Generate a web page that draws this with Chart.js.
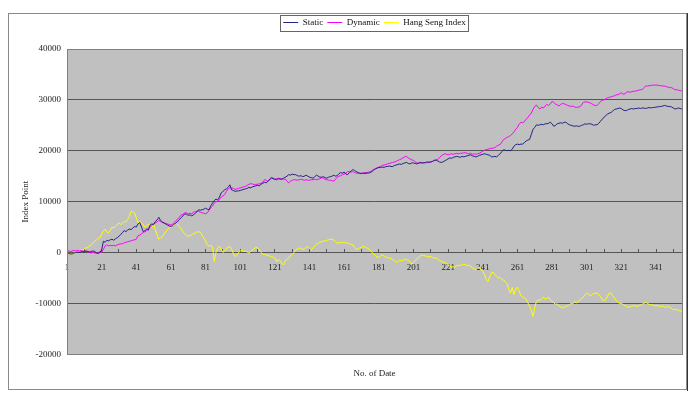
<!DOCTYPE html>
<html>
<head>
<meta charset="utf-8">
<title>Static / Dynamic vs Hang Seng Index</title>
<script src="https://cdn.jsdelivr.net/npm/chart.js@4/dist/chart.umd.min.js"></script>
<style>
  html, body { margin: 0; padding: 0; background: #fff; }
</style>
</head>
<body>
<canvas id="indexChart" width="700" height="397"></canvas>
<script>
// No. of Date (categories)
var days = Array.from({ length: 356 }, function (_, i) { return i + 1; });

// index points, one value per date
var staticValues = [
  0, -200, -300, -300, -100, 0, 100, 0, 100, 200,
  100, 300, 200, 100, 200, 300, 200, -100, -200, 0,
  500, 2200, 2000, 2400, 2300, 2500, 2600, 2400, 2700, 2900,
  3200, 3500, 3900, 4300, 4100, 4400, 4600, 4500, 4800, 5100,
  5000, 5600, 5900, 5000, 4100, 4300, 4600, 4400, 5400, 5600,
  5500, 6100, 6400, 6900, 6300, 6000, 5800, 5600, 5400, 5200,
  5100, 5300, 5600, 5800, 6200, 6500, 6900, 7200, 7600, 7500,
  7300, 7400, 7200, 7400, 7700, 8000, 8400, 8300, 8400, 8500,
  8700, 8500, 8400, 9200, 9700, 10200, 10500, 10300, 10900, 11700,
  12000, 12300, 12500, 12800, 13300, 12300, 12200, 12000, 12100, 12100,
  12200, 12300, 12400, 12500, 12600, 12800, 12700, 12900, 13000, 13100,
  13200, 13100, 13400, 13600, 13800, 13700, 14000, 14300, 14600, 14500,
  14400, 14300, 14500, 14400, 14400, 14600, 14800, 15000, 15300, 15200,
  15400, 15300, 15300, 15100, 15000, 15100, 14900, 15000, 15200, 15000,
  14800, 14700, 14600, 14900, 15200, 15000, 14800, 14800, 14900, 14700,
  14600, 14800, 14900, 15000, 15200, 15000, 15100, 15500, 15700, 15600,
  15800, 15400, 15300, 15700, 16000, 16300, 16100, 15900, 15700, 15600,
  15500, 15600, 15500, 15600, 15600, 15700, 15900, 16200, 16400, 16600,
  16700, 16700, 16800, 16700, 16900, 16900, 17000, 16900, 16900, 17100,
  17200, 17300, 17400, 17300, 17500, 17600, 17700, 17500, 17400, 17600,
  17600, 17500, 17400, 17600, 17700, 17600, 17600, 17700, 17800, 17700,
  17800, 17900, 18100, 18200, 18000, 17800, 17700, 17800, 18000, 18200,
  18400, 18600, 18500, 18700, 18800, 18900, 18800, 18700, 18900, 18800,
  18900, 19000, 19100, 19200, 19000, 18900, 18800, 18900, 19100, 19200,
  19300, 19400, 19300, 19200, 19100, 18800, 18800, 18900, 18800, 19100,
  19400, 19800, 20200, 20100, 20000, 20100, 20000, 20300, 20900, 21200,
  21300, 21200, 21300, 21300, 21600, 21900, 22100, 22200, 23200, 24200,
  24600, 25100, 25000, 25100, 25200, 25100, 25300, 25300, 25400, 25600,
  25300, 24800, 25000, 25300, 25400, 25500, 25400, 25600, 25600, 25300,
  25100, 25000, 24900, 24800, 24900, 24800, 24800, 25000, 25100, 25300,
  25200, 25300, 25300, 25200, 25000, 25100, 25100, 25400, 25800, 26200,
  26600, 26900, 27200, 27400, 27500, 27800, 28100, 28200, 28300, 28400,
  28300, 28000, 27900, 27900, 28100, 28200, 28300, 28200, 28300, 28300,
  28400, 28300, 28400, 28400, 28300, 28400, 28500, 28400, 28500, 28500,
  28600, 28600, 28700, 28700, 28800, 28900, 28800, 28700, 28700, 28600,
  28400, 28200, 28300, 28400, 28300, 28200
];

var dynamicValues = [
  200, 300, 200, 300, 400, 300, 400, 300, 400, 300,
  200, 300, 100, 0, -100, 0, -100, -100, 0, 100,
  0, 600, 1300, 1500, 1300, 1400, 1300, 1400, 1300, 1500,
  1600, 1700, 1700, 1900, 2000, 2100, 2200, 2300, 2400, 2500,
  2600, 3300, 3400, 3700, 3900, 4100, 4300, 4800, 5000, 5300,
  5600, 5800, 6000, 6300, 6100, 5900, 5800, 5700, 5600, 5500,
  5400, 5600, 5900, 6300, 6600, 7000, 7400, 7500, 7800, 7800,
  7600, 7700, 7600, 7900, 8000, 8100, 8100, 7900, 7800, 7700,
  7600, 7800, 8300, 8800, 9100, 9700, 10000, 10000, 10400, 10900,
  11100, 11400, 12000, 12500, 12700, 12700, 12600, 12400, 12500, 12600,
  12700, 12800, 12900, 13000, 13200, 13400, 13500, 13500, 13300, 13400,
  13400, 13500, 13600, 13800, 14300, 14200, 14000, 14400, 14800, 14600,
  14400, 14500, 14600, 14500, 14500, 14400, 14400, 14000, 13700, 14000,
  14200, 14300, 14300, 14200, 14300, 14400, 14300, 14200, 14300, 14200,
  14200, 14300, 14300, 14400, 14300, 14400, 14500, 14700, 14600, 14400,
  14300, 14200, 14200, 14100, 14000, 14400, 14800, 15000, 15100, 15300,
  15400, 15600, 15900, 15900, 15800, 15900, 15700, 15600, 15600, 15500,
  15600, 15600, 15700, 15700, 15800, 15900, 16100, 16300, 16500, 16600,
  16800, 16900, 17100, 17200, 17300, 17400, 17500, 17600, 17700, 17800,
  17900, 18100, 18250, 18400, 18600, 18800, 18900, 18600, 18400, 18200,
  18100, 17800, 17600, 17500, 17600, 17600, 17700, 17600, 17700, 17800,
  17800, 17900, 18100, 18100, 18300, 18600, 19000, 19200, 19400, 19300,
  19200, 19300, 19400, 19300, 19400, 19500, 19400, 19500, 19500, 19600,
  19600, 19500, 19400, 19500, 19300, 19400, 19300, 19400, 19500, 19700,
  19900, 20100, 20200, 20300, 20400, 20500, 20500, 20600, 20900, 21100,
  21200, 21700, 22200, 22400, 22600, 22800, 23000, 23300, 23700, 24200,
  24600, 25200, 25600, 25500, 25700, 26200, 26500, 27000, 27400, 28100,
  28700, 29000, 28500, 28200, 28600, 28400, 28800, 29100, 28900, 29200,
  29700, 29500, 29200, 29000, 28800, 29100, 29300, 29200, 29100, 28900,
  28800, 28700, 28800, 28600, 28500, 28600, 28600, 29000, 29500, 29600,
  29600, 29500, 29400, 29200, 29000, 28900, 28900, 29300, 29700, 29900,
  30000, 30200, 30400, 30500, 30600, 30700, 30800, 31000, 31000, 31200,
  31400, 31100, 31200, 31500, 31600, 31500, 31600, 31700, 31700, 31800,
  31900, 32000, 32000, 32400, 32700, 32700, 32800, 32800, 32900, 32900,
  32900, 32900, 32800, 32800, 32700, 32700, 32600, 32500, 32400, 32400,
  32200, 32000, 32000, 31900, 31800, 31800
];

var hangSengValues = [
  0, -200, -300, -400, -100, 100, 200, 300, 500, 500,
  700, 900, 1000, 1300, 1500, 1800, 2200, 2500, 2800, 2900,
  3600, 4200, 4600, 4000, 3900, 4400, 5000, 4800, 5100, 5500,
  5800, 5500, 5700, 6100, 6000, 6500, 7100, 8100, 8000, 7800,
  6800, 5800, 6100, 5900, 5400, 5000, 5200, 5600, 5200, 4900,
  5500, 4400, 3500, 2600, 2900, 3100, 3600, 4100, 4500, 4800,
  5000, 5300, 5500, 5800, 5400, 5000, 4600, 4100, 3600, 3300,
  3200, 3300, 3500, 3700, 3800, 4000, 4100, 3900, 3400, 2800,
  2200, 1500, 1200, 1400, 1100, -1800, 0, 900, 1200, 600,
  0, 300, 800, 1000, 1200, 700, -200, -800, -500, 0,
  300, 400, 200, 300, 100, -100, 200, 500, 700, 1000,
  900, 500, 0, -300, -400, -500, -600, -700, -800, -900,
  -1100, -1800, -1400, -1600, -2200, -2400, -1600, -1300, -1100, -600,
  -400, 0, 500, 700, 800, 900, 600, 700, 1000, 1200,
  800, 500, 900, 1300, 1600, 1800, 2000, 2100, 2300, 2200,
  2400, 2500, 2600, 2600, 2400, 2100, 1800, 1900, 2000, 1900,
  2000, 1800, 1900, 1700, 1600, 1500, 1000, 600, 700, 900,
  1000, 1200, 1100, 900, 800, 400, 0, -200, -600, -900,
  -1000, -700, -500, -700, -900, -1000, -1100, -1200, -1400, -1600,
  -1900, -1800, -1500, -1700, -1500, -1300, -1400, -1500, -1800, -2300,
  -2000, -1600, -1300, -1000, -700, -500, -600, -700, -800, -900,
  -800, -1000, -1100, -1100, -1300, -1600, -1700, -1900, -2000, -2100,
  -2400, -2700, -2900, -2800, -2900, -2600, -2500, -2600, -2400, -2300,
  -2400, -2600, -2500, -2700, -3000, -3200, -3400, -3100, -2900, -3300,
  -3700, -4300, -5300, -5700, -4800, -4000, -3900, -4300, -4700, -5000,
  -4900, -5300, -5400, -5800, -6100, -7200, -8000, -6900, -8300, -7200,
  -6800, -7600, -8500, -8700, -8900, -9200, -9900, -10500, -11400, -12600,
  -10800, -9600, -9300, -9400, -9100, -8800, -9200, -9000, -8800, -9300,
  -9600, -9900, -10200, -10100, -10500, -10700, -10900, -10800, -10600, -10500,
  -10300, -10000, -10100, -9600, -9900, -9600, -9400, -9000, -8800, -8300,
  -8000, -8200, -8500, -8300, -8100, -8000, -8000, -8300, -8700, -9300,
  -9500, -9200, -8600, -8000, -8000, -8500, -9000, -9400, -9800, -10000,
  -10000, -10200, -10400, -10600, -10800, -10700, -10600, -10400, -10500, -10600,
  -10500, -10400, -10200, -10000, -9800, -10000, -10200, -10300, -10300, -10500,
  -10400, -10500, -10600, -10600, -10500, -10700, -10800, -10600, -10800, -11000,
  -11300, -11200, -11200, -11400, -11500, -11600
];

// y axis ticks
var yMin = -20000;
var yMax = 40000;
var yStep = 10000;

var serif = '"Liberation Serif", "Times New Roman", serif';
var smallFont = { family: serif, size: 9 };
var textColor = '#222';

// white page, outer frame, grey plot area and the legend box
var chartDecor = {
  id: 'chartDecor',
  afterLayout: function (chart) {
    // lift the legend up towards the frame like the original
    chart.legend.top -= 12;
    chart.legend.bottom -= 12;
  },
  beforeDraw: function (chart) {
    var ctx = chart.ctx, a = chart.chartArea;
    ctx.save();
    ctx.fillStyle = '#fff';
    ctx.fillRect(0, 0, chart.width, chart.height);
    ctx.lineWidth = 1;
    ctx.strokeStyle = '#8a8a8a';
    ctx.strokeRect(8.5, 13.5, 678, 376);
    ctx.strokeStyle = '#333';
    ctx.beginPath();
    ctx.moveTo(687.5, 13);
    ctx.lineTo(687.5, 391);
    ctx.stroke();
    ctx.fillStyle = '#c0c0c0';
    ctx.fillRect(a.left, a.top, a.right - a.left, a.bottom - a.top);
    ctx.restore();
  },
  afterDatasetsDraw: function (chart) {
    var ctx = chart.ctx, a = chart.chartArea;
    ctx.save();
    ctx.strokeStyle = '#808080';
    ctx.lineWidth = 1;
    ctx.strokeRect(Math.round(a.left) + 0.5, Math.round(a.top) + 0.5,
      Math.round(a.right - a.left), Math.round(a.bottom - a.top));
    ctx.restore();
  },
  afterDraw: function (chart) {
    var boxes = chart.legend.legendHitBoxes;
    if (!boxes || !boxes.length) return;
    var left = Math.min.apply(null, boxes.map(function (b) { return b.left; }));
    var right = Math.max.apply(null, boxes.map(function (b) { return b.left + b.width; }));
    var top = boxes[0].top, h = boxes[0].height;
    var ctx = chart.ctx;
    ctx.save();
    ctx.strokeStyle = '#666';
    ctx.lineWidth = 1;
    ctx.strokeRect(Math.round(left - 3) + 0.5, Math.round(top - 3) + 0.5,
      Math.round(right - left + 6), Math.round(h + 7));
    ctx.restore();
  }
};

var ctx = document.getElementById('indexChart');
var indexChart = new Chart(ctx, {
  type: 'line',
  data: {
    labels: days,
    datasets: [{
      label: 'Static',
      data: staticValues,
      borderColor: '#23237f',
      borderWidth: 1,
      pointRadius: 0,
      tension: 0
    }, {
      label: 'Dynamic',
      data: dynamicValues,
      borderColor: '#ff00ff',
      borderWidth: 1,
      pointRadius: 0,
      tension: 0
    }, {
      label: 'Hang Seng Index',
      data: hangSengValues,
      borderColor: '#ffff00',
      borderWidth: 1,
      pointRadius: 0,
      tension: 0
    }]
  },
  options: {
    responsive: false,
    animation: false,
    devicePixelRatio: 1,
    layout: { padding: { left: 8, right: 18, top: 14, bottom: 8 } },
    scales: {
      x: {
        type: 'category',
        position: { y: 0 },
        ticks: {
          autoSkip: false,
          maxRotation: 0,
          padding: 14,
          color: textColor,
          font: smallFont,
          callback: function (value, index) {
            return index % 2 === 0 ? this.getLabelForValue(value) : '';
          }
        },
        grid: { drawOnChartArea: false, tickLength: -4, tickColor: '#555' },
        border: { color: '#555', width: 1 },
        afterBuildTicks: function (scale) {
          // a tick every 10 dates, a label every 20
          scale.ticks = scale.ticks.filter(function (t) { return t.value % 10 === 0; });
        }
      },
      y: {
        min: yMin,
        max: yMax,
        ticks: {
          stepSize: yStep,
          padding: 6,
          color: textColor,
          font: smallFont,
          callback: function (value) { return String(value); }
        },
        grid: { color: '#555', drawTicks: false },
        border: { display: false },
        title: {
          display: true,
          text: 'Index Point',
          color: textColor,
          font: smallFont,
          padding: { top: 12, bottom: 0 }
        },
        afterFit: function (scale) {
          scale.width = 59;
          scale.paddingTop = 49;
        }
      }
    },
    plugins: {
      legend: {
        position: 'top',
        fullSize: false,
        labels: {
          usePointStyle: true,
          pointStyle: 'line',
          pointStyleWidth: 15,
          padding: 4,
          color: '#111',
          font: smallFont
        }
      },
      title: {
        display: true,
        text: 'No. of Date',
        position: 'bottom',
        fullSize: false,
        color: textColor,
        font: { family: serif, size: 9, weight: 'normal' },
        padding: { top: 14, bottom: 10 }
      },
      tooltip: { enabled: false }
    }
  },
  plugins: [chartDecor]
});
</script>
</body>
</html>
